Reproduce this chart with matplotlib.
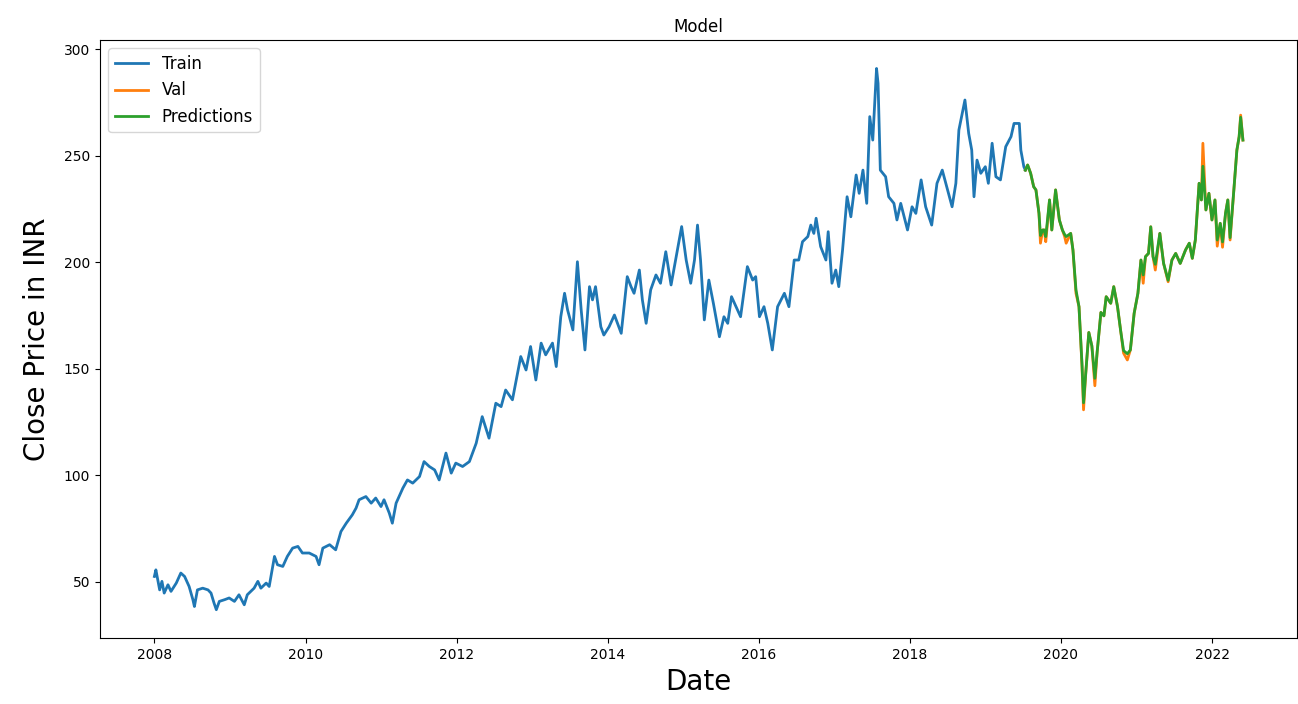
import numpy as np
import pandas as pd
import matplotlib
matplotlib.use('Agg')
import matplotlib.pyplot as plt

# Closing prices, dates given as decimal years
train_years = [
    2008.00, 2008.02, 2008.07, 2008.10, 2008.13, 2008.18, 2008.22, 2008.29,
    2008.35, 2008.40, 2008.46, 2008.51, 2008.53, 2008.57, 2008.64, 2008.71,
    2008.75, 2008.79, 2008.82, 2008.86, 2008.93, 2008.99, 2009.06, 2009.12,
    2009.19, 2009.23, 2009.32, 2009.37, 2009.41, 2009.48, 2009.52, 2009.59,
    2009.63, 2009.70, 2009.76, 2009.83, 2009.90, 2009.96, 2010.05, 2010.14,
    2010.18, 2010.23, 2010.32, 2010.40, 2010.47, 2010.54, 2010.62, 2010.67,
    2010.71, 2010.80, 2010.87, 2010.93, 2011.00,
    2011.04, 2011.11, 2011.15, 2011.20, 2011.29, 2011.35, 2011.42, 2011.51,
    2011.57, 2011.64, 2011.71, 2011.77, 2011.86, 2011.93, 2011.99, 2012.08,
    2012.17, 2012.26, 2012.34, 2012.43, 2012.52, 2012.59, 2012.65, 2012.74,
    2012.79, 2012.85, 2012.92, 2012.98, 2013.05, 2013.12, 2013.18, 2013.27,
    2013.32, 2013.38, 2013.43, 2013.47, 2013.54, 2013.60, 2013.65, 2013.70,
    2013.76, 2013.80, 2013.84, 2013.91, 2013.95, 2014.02, 2014.09, 2014.18,
    2014.26, 2014.31, 2014.35, 2014.42, 2014.46, 2014.51, 2014.57, 2014.64,
    2014.70, 2014.77, 2014.84, 2014.90, 2014.98, 2015.04, 2015.10, 2015.15,
    2015.19, 2015.23, 2015.28, 2015.34, 2015.40, 2015.48, 2015.54, 2015.59,
    2015.64, 2015.70, 2015.76, 2015.85, 2015.92, 2015.96, 2016.01, 2016.07,
    2016.12, 2016.18, 2016.25, 2016.34, 2016.40, 2016.47, 2016.53, 2016.58,
    2016.65, 2016.69, 2016.73, 2016.76, 2016.82, 2016.89, 2016.92, 2016.97,
    2017.02, 2017.06, 2017.11, 2017.17, 2017.22, 2017.29, 2017.33, 2017.38,
    2017.43, 2017.47, 2017.51, 2017.56, 2017.58, 2017.61, 2017.68, 2017.72,
    2017.79, 2017.83, 2017.88, 2017.97, 2018.03, 2018.08, 2018.15, 2018.21,
    2018.29, 2018.36, 2018.43, 2018.50, 2018.56, 2018.61, 2018.65, 2018.73,
    2018.78, 2018.82, 2018.85, 2018.89, 2018.94, 2019.00, 2019.04, 2019.09,
    2019.14, 2019.20, 2019.27, 2019.34, 2019.38, 2019.45, 2019.47, 2019.51,
    2019.53,
]
train_close = [
    52.5, 55.6, 46.2, 50.2, 44.7, 48.6, 45.5, 49.4,
    54.1, 52.5, 47.8, 41.6, 38.4, 46.2, 47.0, 46.2,
    44.7, 40.0, 36.9, 40.8, 41.6, 42.4, 40.8, 43.9,
    39.2, 43.9, 47.0, 50.2, 47.0, 49.4, 47.8, 61.9,
    58.0, 57.2, 61.9, 65.8, 66.6, 63.5, 63.5, 61.9,
    58.0, 65.8, 67.4, 65.0, 73.6, 77.5, 81.4, 84.6,
    88.5, 90.0, 86.9, 89.3, 85.3,
    88.5, 82.2, 77.5, 86.9, 94.0, 97.8, 96.3, 99.4,
    106.4, 104.1, 102.5, 97.8, 110.4, 101.0, 105.7, 104.1,
    106.4, 115.0, 127.5, 117.4, 133.8, 132.2, 140.0, 135.4,
    144.7, 155.7, 149.4, 160.4, 144.7, 162.0, 156.5, 162.0,
    151.0, 174.4, 185.4, 177.6, 168.2, 200.2, 177.6, 158.8,
    188.5, 182.3, 188.5, 169.7, 165.8, 169.7, 175.2, 166.6,
    193.2, 188.5, 185.4, 196.3, 182.3, 171.3, 187.0, 194.0,
    190.1, 204.9, 189.3, 201.0, 216.7, 201.0, 190.1, 201.0,
    217.4, 201.0, 172.9, 191.6, 180.7, 165.0, 174.4, 171.3,
    183.8, 179.1, 174.4, 197.9, 191.6, 193.2, 174.4, 179.1,
    171.3, 158.8, 179.1, 185.4, 179.1, 201.0, 201.0, 209.6,
    212.0, 217.4, 213.5, 220.6, 207.3, 201.0, 214.3, 190.1,
    196.3, 188.5, 205.7, 230.7, 221.3, 240.9, 232.3, 243.2,
    227.6, 268.3, 257.3, 290.9, 283.9, 243.2, 240.1, 230.7,
    227.6, 219.8, 227.6, 215.1, 226.0, 222.9, 238.6, 226.0,
    217.4, 237.0, 243.2, 233.9, 226.0, 237.0, 262.0, 276.1,
    260.4, 252.6, 230.7, 247.9, 241.7, 244.8, 237.0, 255.8,
    240.1, 238.6, 254.2, 258.9, 265.1, 265.1, 252.6, 244.8,
    243.2,
]

valid_years = [
    2019.53, 2019.56, 2019.60, 2019.64, 2019.67, 2019.71, 2019.73, 2019.76,
    2019.78, 2019.80, 2019.85, 2019.88, 2019.93, 2019.98, 2020.02, 2020.05,
    2020.07, 2020.13, 2020.16, 2020.20, 2020.24, 2020.28, 2020.30, 2020.33,
    2020.37, 2020.41, 2020.45, 2020.48, 2020.53, 2020.57, 2020.60, 2020.66,
    2020.70, 2020.75, 2020.79, 2020.83, 2020.88, 2020.92, 2020.97, 2021.02,
    2021.06, 2021.09, 2021.12, 2021.16, 2021.19, 2021.22, 2021.25, 2021.31,
    2021.36, 2021.42, 2021.47, 2021.52, 2021.58, 2021.65, 2021.70, 2021.74,
    2021.78, 2021.83, 2021.86, 2021.88, 2021.92, 2021.96, 2022.00, 2022.04,
    2022.07, 2022.11, 2022.14, 2022.18, 2022.21, 2022.24, 2022.29, 2022.33,
    2022.36, 2022.38, 2022.41,
]
valid_close = [
    243.2, 245.6, 241.7, 235.4, 233.9, 223.0, 208.9, 215.1,
    215.1, 209.6, 229.2, 215.1, 233.9, 219.8, 215.1, 212.0,
    208.9, 213.5, 205.7, 185.4, 179.1, 151.0, 130.7, 148.2,
    167.0, 160.7, 142.0, 157.7, 176.4, 174.8, 183.8, 180.7,
    188.5, 179.1, 168.2, 157.3, 154.1, 158.8, 176.0, 185.4,
    201.0, 190.1, 202.6, 204.1, 216.6, 202.6, 196.3, 213.5,
    199.4, 190.8, 201.0, 204.1, 199.4, 205.7, 208.9, 201.8,
    210.4, 237.0, 229.2, 255.8, 224.5, 232.3, 219.8, 229.2,
    207.5, 218.2, 207.0, 223.0, 229.2, 210.4, 233.9, 252.6,
    258.9, 269.0, 257.3,
]
pred_close = [
    243.2, 245.6, 241.7, 235.4, 233.9, 223.0, 212.5, 215.1,
    215.1, 212.0, 229.2, 215.1, 233.9, 219.8, 215.1, 213.0,
    212.0, 213.5, 205.7, 187.0, 179.1, 152.0, 134.0, 148.2,
    167.0, 160.7, 145.5, 157.7, 176.4, 174.8, 183.8, 180.7,
    188.5, 179.1, 168.2, 158.5, 157.0, 158.8, 176.0, 185.4,
    201.0, 194.0, 202.6, 204.1, 216.6, 202.6, 199.0, 213.5,
    199.4, 191.5, 201.0, 204.1, 199.4, 205.7, 208.9, 201.8,
    210.4, 237.0, 229.2, 245.0, 224.5, 232.3, 219.8, 229.2,
    210.4, 218.2, 209.5, 223.0, 229.2, 211.5, 233.9, 252.6,
    258.9, 268.0, 257.3,
]


def to_dates(years):
    yrs = np.asarray(years)
    return pd.to_datetime('2008-01-01') + pd.to_timedelta((yrs - 2008) * 365.25, unit='D')


train = pd.DataFrame({'Close': train_close}, index=to_dates(train_years))
valid = pd.DataFrame({'Close': valid_close, 'Predictions': pred_close},
                     index=to_dates(valid_years))

# axes run off the right edge of the canvas
fig = plt.figure(figsize=(12.98, 7.04), dpi=100)
ax = fig.add_axes([0.077, 0.094, 0.9225, 0.849])

ax.set_title('Model', fontsize=12)
ax.plot(train.index, train['Close'], color='#1f77b4', linewidth=2.0)
ax.plot(valid.index, valid['Close'], color='#ff7f0e', linewidth=2.0)
ax.plot(valid.index, valid['Predictions'], color='#2ca02c', linewidth=2.0)
ax.set_xlabel('Date', fontsize=20, labelpad=5)
ax.set_ylabel('Close Price in INR', fontsize=20, labelpad=9)
ax.tick_params(labelsize=10)
ax.set_ylim(23.7, 304.2)
ax.legend(['Train', 'Val', 'Predictions'], loc='upper left', fontsize=12)

fig.savefig('out.png', dpi=100)
